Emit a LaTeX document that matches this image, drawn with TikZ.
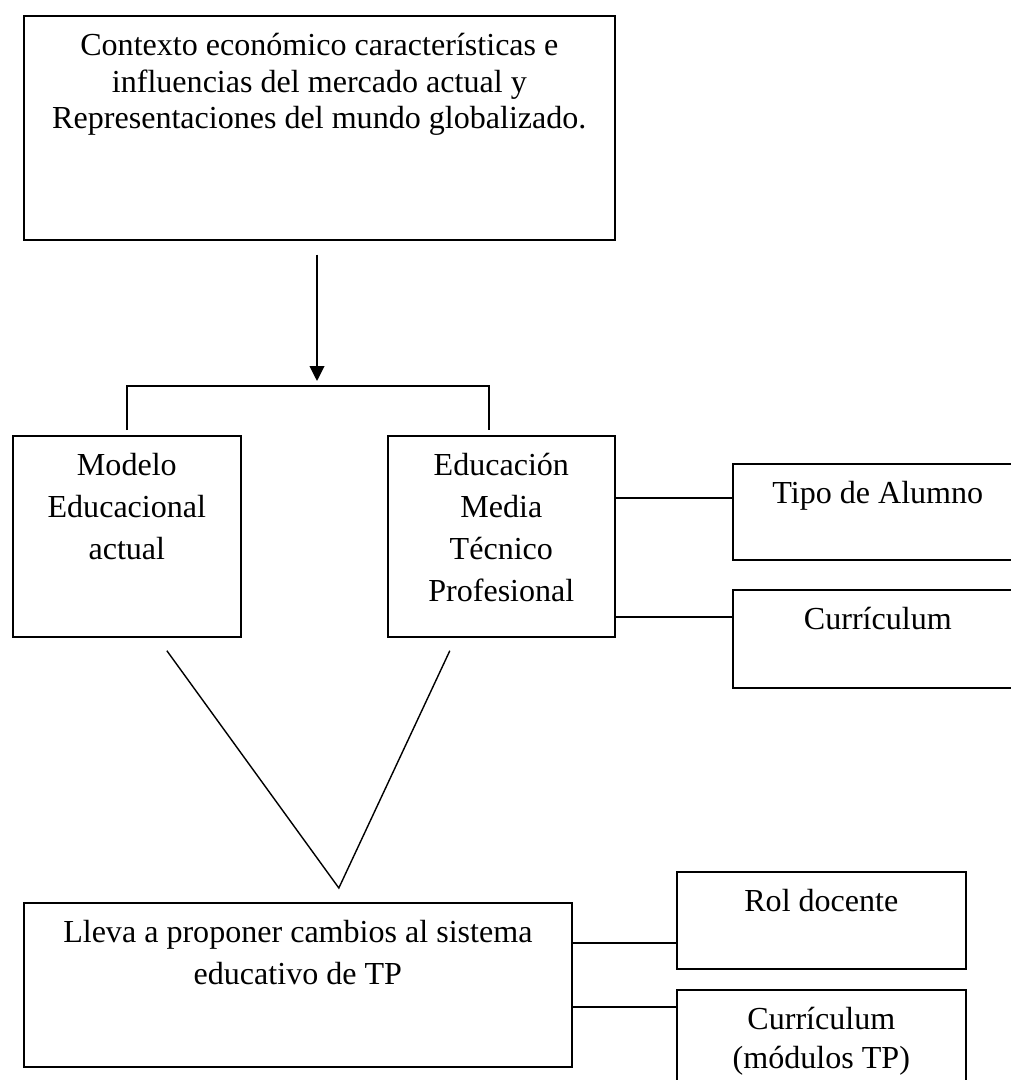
\documentclass[tikz,border=0pt]{standalone}
\usepackage{fontspec}
\setmainfont{Liberation Serif}
\usetikzlibrary{arrows.meta}
\newlength\pxunit
\setlength\pxunit{0.025cm}
\newcommand{\boxtext}[3]{\parbox[c][#2\pxunit][t]{#1\pxunit}{\centering\rule{0pt}{40\pxunit}#3}}

\begin{document}
\begin{tikzpicture}[x=0.025cm,y=-0.025cm,line width=1.2pt]
            \tikzstyle{box}=[draw,inner sep=0pt,anchor=north west,font=\fontsize{22.8}{29.8}\selectfont]
            \useasboundingbox (0,0) rectangle (1011,1080);
            \clip (0,0) rectangle (1011,1080);

            \node[box,font=\fontsize{22.8}{26}\selectfont] (ctx) at (23,15)
              {\boxtext{591}{224}{Contexto económico características e\\influencias del mercado actual y\\Representaciones del mundo globalizado.}};
            \node[box] (modelo) at (12,435) {\boxtext{228}{201}{Modelo\\Educacional\\actual}};
            \node[box] (emtp) at (387,435) {\boxtext{227}{201}{Educación\\Media\\Técnico\\Profesional}};
            \node[box] (tipo) at (732,463) {\boxtext{290}{96}{Tipo de Alumno}};
            \node[box] (curr) at (732,589) {\boxtext{290}{98}{Currículum}};
            \node[box] (lleva) at (23,902) {\boxtext{548}{164}{Lleva a proponer cambios al sistema\\educativo de TP}};
            \node[box] (rol) at (676,871) {\boxtext{289}{97}{Rol docente}};
            \node[box,font=\fontsize{22.8}{27.7}\selectfont] (currtp) at (676,989) {\boxtext{289}{120}{Currículum\\(módulos TP)}};

            \coordinate (split) at (317,386);
            \draw[-{Triangle[length=0.375cm,width=0.37cm]},shorten <=0.35cm,shorten >=0.125cm] (ctx.south -| split) -- (split);
            \draw ([yshift=0.125cm]modelo.north) |- (split) -| ([xshift=-0.3125cm,yshift=0.125cm]emtp.north);

            \draw ([yshift=0.35cm]tipo.west) -- ([yshift=0.35cm]tipo.west -| emtp.east);
            \draw ([yshift=0.55cm]curr.west) -- ([yshift=0.55cm]curr.west -| emtp.east);

            \draw[line width=1pt] ([shift={(40,13)}]modelo.south) -- ([shift={(41,-14)}]lleva.north) -- ([shift={(-51.5,13)}]emtp.south);

            \draw ([yshift=-0.5625cm]rol.west) -- ([yshift=-0.5625cm]rol.west -| lleva.east);
            \draw ([yshift=-0.45cm]currtp.north west) -- ([yshift=-0.45cm]currtp.north west -| lleva.east);
\end{tikzpicture}
\end{document}
